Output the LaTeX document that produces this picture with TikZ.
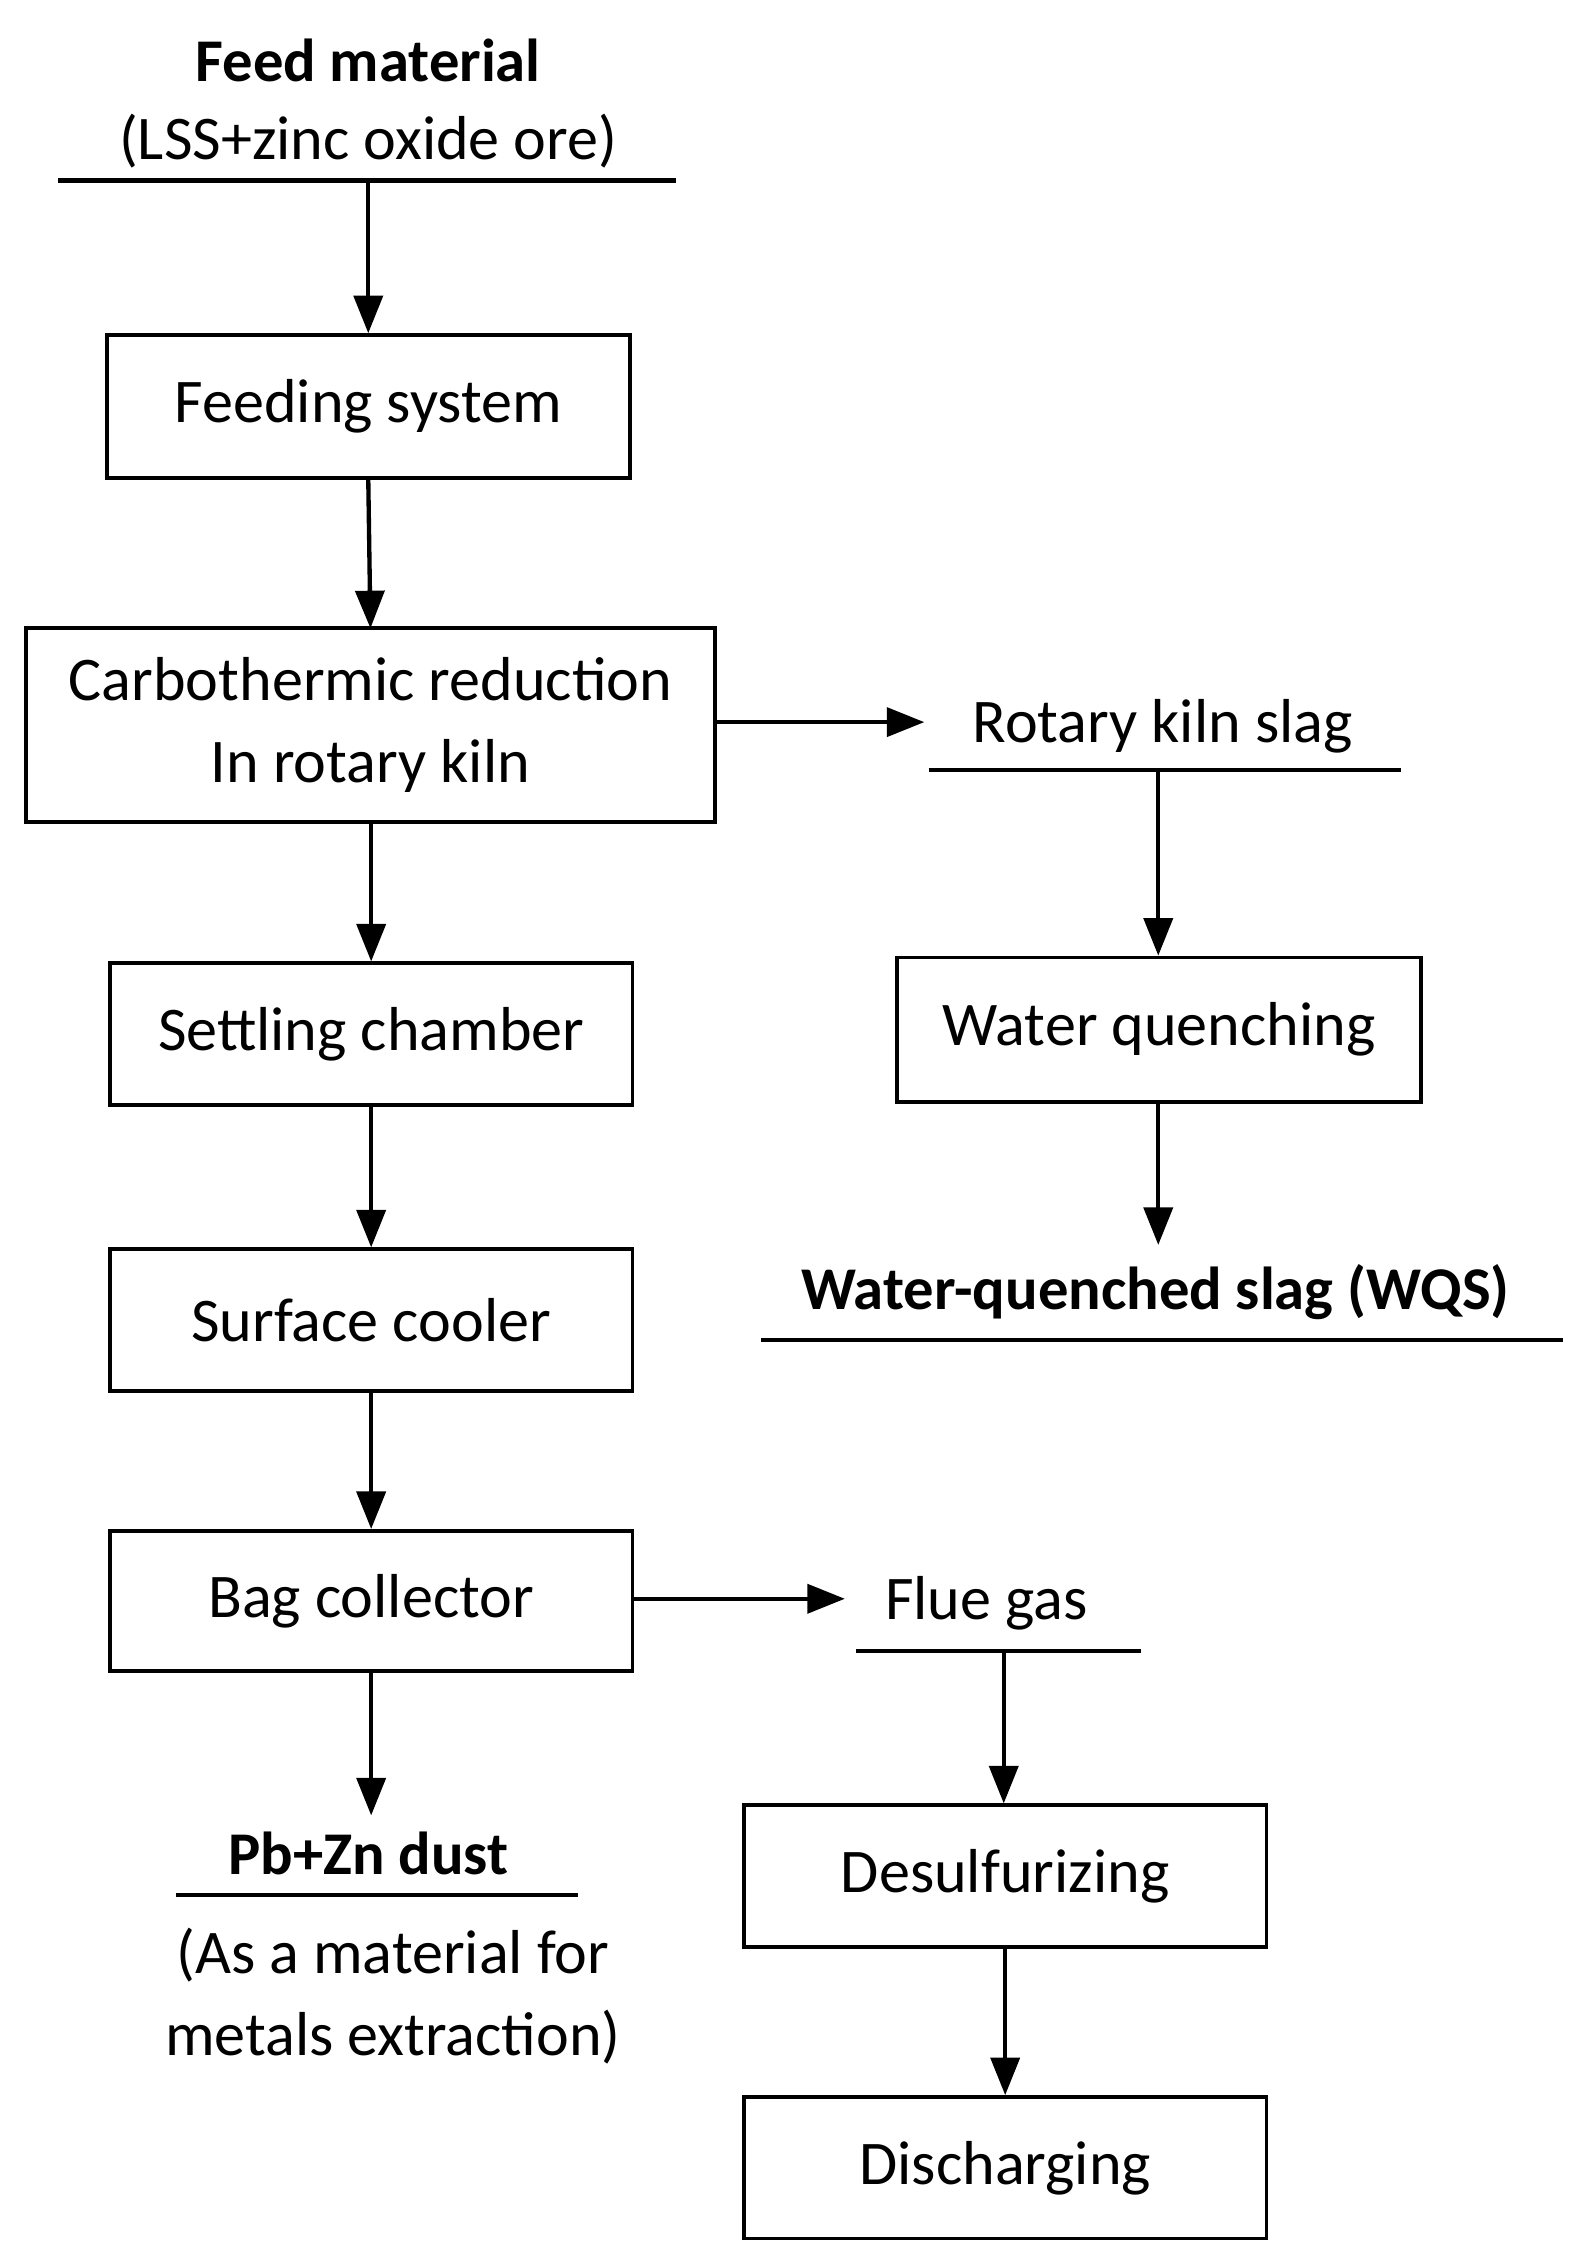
\documentclass[tikz,border=0pt]{standalone}
\usepackage{fontspec}
\setmainfont{Carlito}
\usetikzlibrary{arrows.meta}
\begin{document}
\begin{tikzpicture}[x=1pt,y=-1pt,
  box/.style={draw,line width=2.6pt,inner sep=0pt},
  lbl/.style={font=\fontsize{43}{57}\selectfont,inner sep=0pt},
  blbl/.style={font=\fontsize{42}{57}\selectfont\bfseries,inner sep=0pt},
  ln/.style={line width=3pt},
  arr/.style={line width=3pt,-{Triangle[length=26pt,width=20pt]}}]
\useasboundingbox (0,0) rectangle (1100,1569);
% left column
\node[blbl] (feed) at (255,42) {Feed material};
\node[lbl] (feed2) at (255,98) {(LSS+zinc oxide ore)};
\coordinate (fl1) at (40,125); \coordinate (fl2) at (468,125);
\draw[ln] (fl1) -- (fl2);
\node[box,minimum width=362pt,minimum height=99pt] (fs) at (255,281.5) {};
\node[lbl] (fst) at (fs) {Feeding system};
\coordinate (fa) at (255,125);
\draw[arr] (fa) -- (fs.north);
\node[box,minimum width=477pt,minimum height=134pt,align=center] (cr) at (256.5,502) {};
\node[lbl,align=center] (crt) at (cr) {Carbothermic reduction\\In rotary kiln};
\draw[arr] (fs.south) -- (256.5,435);
\node[box,minimum width=362pt,minimum height=98pt] (sc) at (257,716) {};
\node[lbl] at (sc) {Settling chamber};
\draw[arr] (cr.south -| sc.north) -- (sc.north);
\node[box,minimum width=362pt,minimum height=98pt] (su) at (257,914) {};
\node[lbl] at (su) {Surface cooler};
\draw[arr] (sc.south) -- (su.north);
\node[box,minimum width=362pt,minimum height=97pt] (bc) at (257,1108.5) {};
\node[lbl] at (bc) {Bag collector};
\draw[arr] (su.south) -- (bc.north);
\node[blbl] (pb) at (255,1283) {Pb+Zn dust};
\coordinate (pl1) at (122,1312); \coordinate (pl2) at (400,1312);
\draw[ln] (pl1) -- (pl2);
\coordinate (pa) at (257,1257);
\draw[arr] (bc.south) -- (pa);
\node[lbl,align=center] (pbt) at (272,1382) {(As a material for\\metals extraction)};
% right top
\node[lbl] (rk) at (805,503) {Rotary kiln slag};
\coordinate (rl1) at (643,533); \coordinate (rl2) at (970,533);
\draw[ln] (rl1) -- (rl2);
\coordinate (ra) at (640,500);
\draw[arr] (cr.east |- ra) -- (ra);
\node[box,minimum width=363pt,minimum height=100pt] (wq) at (802.5,713) {};
\node[lbl] at (wq) {Water quenching};
\coordinate (rb) at (802,533);
\draw[arr] (rb) -- (rb |- wq.north);
\node[blbl] (wqs) at (800,895) {Water-quenched slag (WQS)};
\coordinate (wl1) at (527,928); \coordinate (wl2) at (1082,928);
\draw[ln] (wl1) -- (wl2);
\coordinate (wa) at (802,862);
\draw[arr] (wq.south -| wa) -- (wa);
% right bottom
\node[lbl] (fg) at (683,1110) {Flue gas};
\coordinate (gl1) at (593,1143); \coordinate (gl2) at (790,1143);
\draw[ln] (gl1) -- (gl2);
\coordinate (ga) at (585,1107);
\draw[arr] (bc.east |- ga) -- (ga);
\node[box,minimum width=362pt,minimum height=98pt] (ds) at (696,1299) {};
\node[lbl] at (ds) {Desulfurizing};
\coordinate (gb) at (695,1143);
\draw[arr] (gb) -- (gb |- ds.north);
\node[box,minimum width=362pt,minimum height=98pt] (dc) at (696,1501) {};
\node[lbl] at (dc) {Discharging};
\draw[arr] (ds.south) -- (dc.north);
\end{tikzpicture}
\end{document}
